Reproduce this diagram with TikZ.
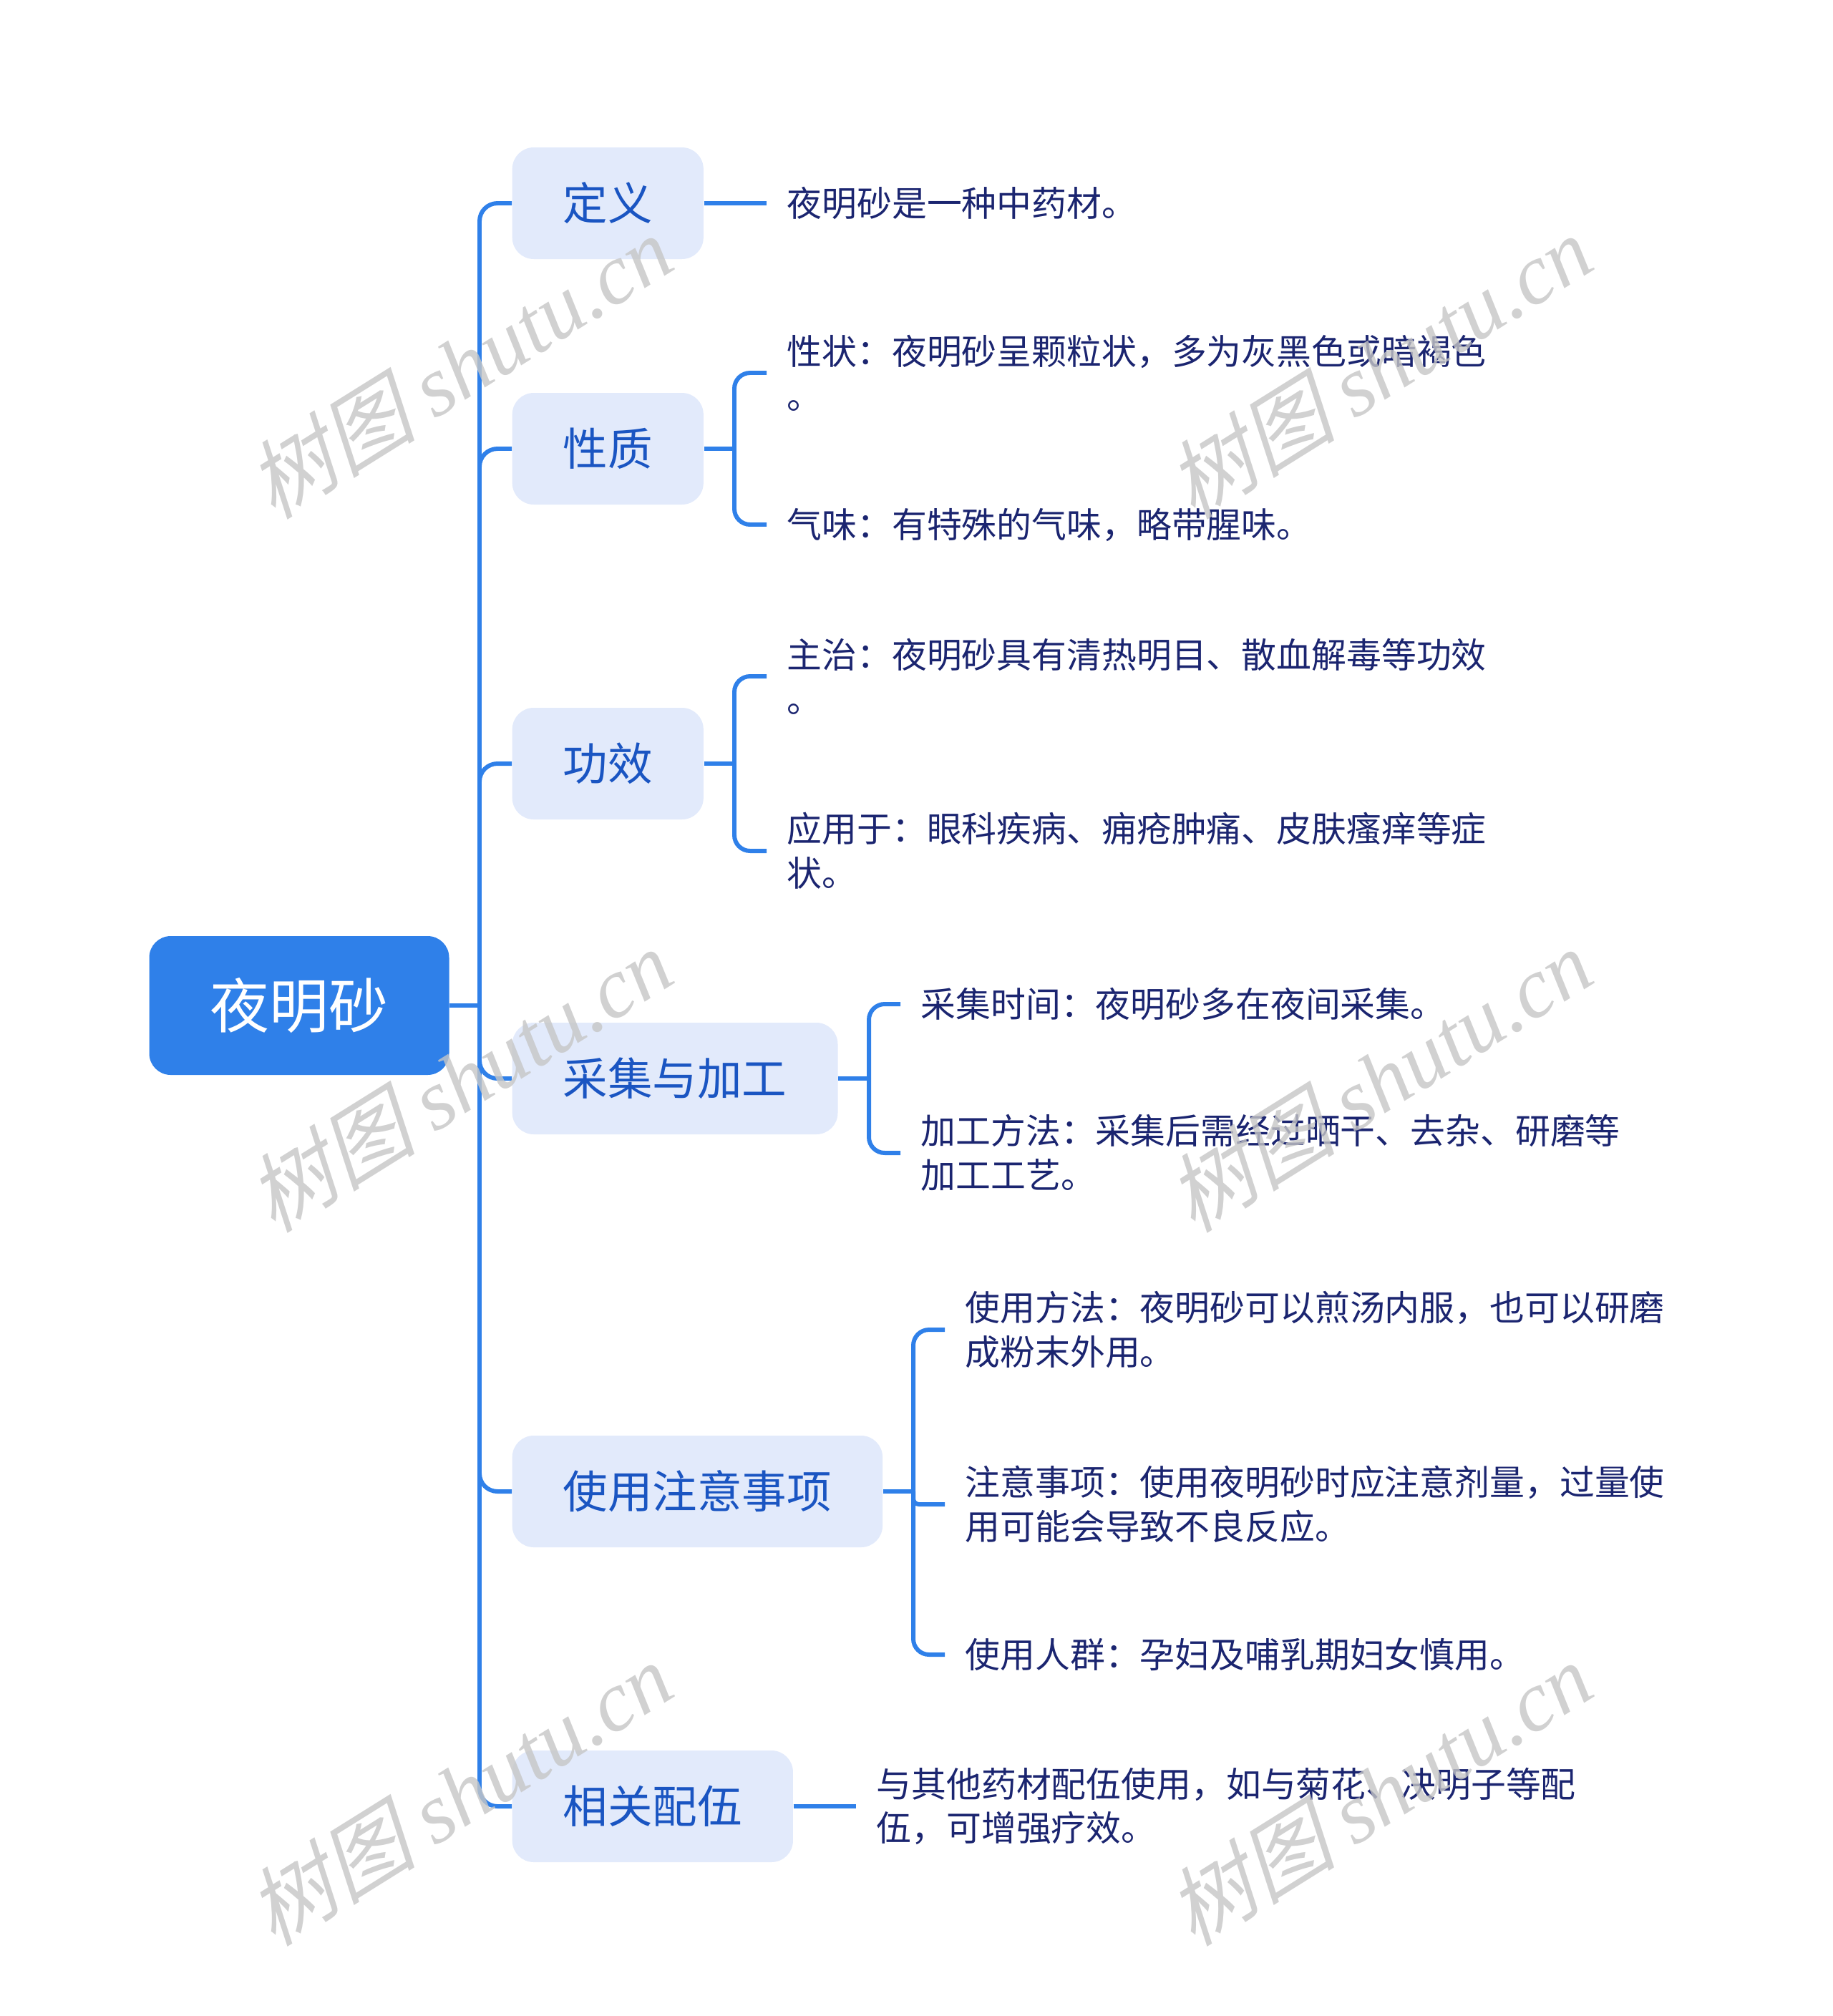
\documentclass[tikz,border=0pt]{standalone}
\usepackage{fontspec}
\setmainfont{Noto Sans CJK SC}
\newfontfamily\cjkxie[FakeSlant=0.25]{Noto Sans CJK SC}
\newfontfamily\wmfont{Liberation Serif}
\definecolor{zhulan}{HTML}{2F80E9}
\definecolor{qianlan}{HTML}{E2EAFB}
\definecolor{shenlan}{HTML}{1A55C2}
\definecolor{zangqing}{HTML}{1B2570}

\begin{document}
\begin{tikzpicture}[x=1cm,y=-1cm,
	zhu/.style={fill=zhulan,text=white,rounded corners=0.3cm,minimum width=4.19cm,minimum height=1.94cm,font=\fontsize{23.6}{28}\selectfont},
	fen/.style={fill=qianlan,text=shenlan,rounded corners=0.3cm,anchor=west,minimum height=1.56cm,inner xsep=0.71cm,font=\fontsize{17.8}{22}\selectfont},
	ye/.style={anchor=west,align=left,inner xsep=2.8mm,inner ysep=0pt,text=zangqing,font=\fontsize{13.9}{17.6}\selectfont},
	xian/.style={draw=zhulan,line width=1.7pt,rounded corners=0.22cm},
	shuiyin/.style={rotate=32,text=gray!45,text opacity=0.8,font=\fontsize{34}{40}\selectfont}]
	\useasboundingbox (0,0) rectangle (25.6,28.17);
	% 中心主题
	\node[zhu] (gen) at (4.18,14.05) {夜明砂};
	% 一级分支
	\node[fen] (dy) at (7.15,2.84) {定义};
	\node[fen] (xz) at (7.15,6.27) {性质};
	\node[fen] (gx) at (7.15,10.67) {功效};
	\node[fen] (cj) at (7.15,15.07) {采集与加工};
	\node[fen] (sy) at (7.15,20.84) {使用注意事项};
	\node[fen] (pw) at (7.15,25.24) {相关配伍};
	% 二级内容
	\node[ye] (dy1) at (10.71,2.84) {夜明砂是一种中药材。};
	\node[ye] (xz1) at (10.71,5.21) {性状：夜明砂呈颗粒状，多为灰黑色或暗褐色\\。};
	\node[ye] (xz2) at (10.71,7.33) {气味：有特殊的气味，略带腥味。};
	\node[ye] (gx1) at (10.71,9.45) {主治：夜明砂具有清热明目、散血解毒等功效\\。};
	\node[ye] (gx2) at (10.71,11.89) {应用于：眼科疾病、痈疮肿痛、皮肤瘙痒等症\\状。};
	\node[ye] (cj1) at (12.58,14.03) {采集时间：夜明砂多在夜间采集。};
	\node[ye] (cj2) at (12.58,16.11) {加工方法：采集后需经过晒干、去杂、研磨等\\加工工艺。};
	\node[ye] (sy1) at (13.20,18.58) {使用方法：夜明砂可以煎汤内服，也可以研磨\\成粉末外用。};
	\node[ye] (sy2) at (13.20,21.02) {注意事项：使用夜明砂时应注意剂量，过量使\\用可能会导致不良反应。};
	\node[ye] (sy3) at (13.20,23.12) {使用人群：孕妇及哺乳期妇女慎用。};
	\node[ye] (pw1) at (11.96,25.24) {与其他药材配伍使用，如与菊花、决明子等配\\伍，可增强疗效。};
	% 主干
	\coordinate (gan) at (6.70,14.05);
	\draw[xian,rounded corners=0] (gen.east) -- (gan);
	\foreach \k in {dy,xz,gx,cj,sy,pw}
		\draw[xian,rounded corners=0.25cm] (gan) |- (\k.west);
	% 括号连线
	\draw[xian] (dy.east) -- (dy1.west);
	\draw[xian] (pw.east) -- (pw1.west);
	\coordinate (xz-j) at (10.26,6.27);
	\coordinate (gx-j) at (10.26,10.67);
	\coordinate (cj-j) at (12.14,15.07);
	\coordinate (sy-j) at (12.76,20.84);
	\draw[xian] (xz.east) -- (xz-j);
	\draw[xian] (xz-j) |- (xz1.west);
	\draw[xian] (xz-j) |- (xz2.west);
	\draw[xian] (gx.east) -- (gx-j);
	\draw[xian] (gx-j) |- (gx1.west);
	\draw[xian] (gx-j) |- (gx2.west);
	\draw[xian] (cj.east) -- (cj-j);
	\draw[xian] (cj-j) |- (cj1.west);
	\draw[xian] (cj-j) |- (cj2.west);
	\draw[xian] (sy.east) -- (sy-j);
	\draw[xian] (sy-j) |- (sy1.west);
	\draw[xian,rounded corners=0.08cm] (sy-j) |- (sy2.west);
	\draw[xian] (sy-j) |- (sy3.west);
	% 水印
	\foreach \wx/\wy [count=\n] in {6.41/5.12,19.26/5.12,6.41/15.09,19.26/15.09,6.41/25.06,19.26/25.06}
		\node[shuiyin] (wm\n) at (\wx,\wy) {{\cjkxie 树图} {\wmfont\itshape shutu.cn}};
\end{tikzpicture}
\end{document}
